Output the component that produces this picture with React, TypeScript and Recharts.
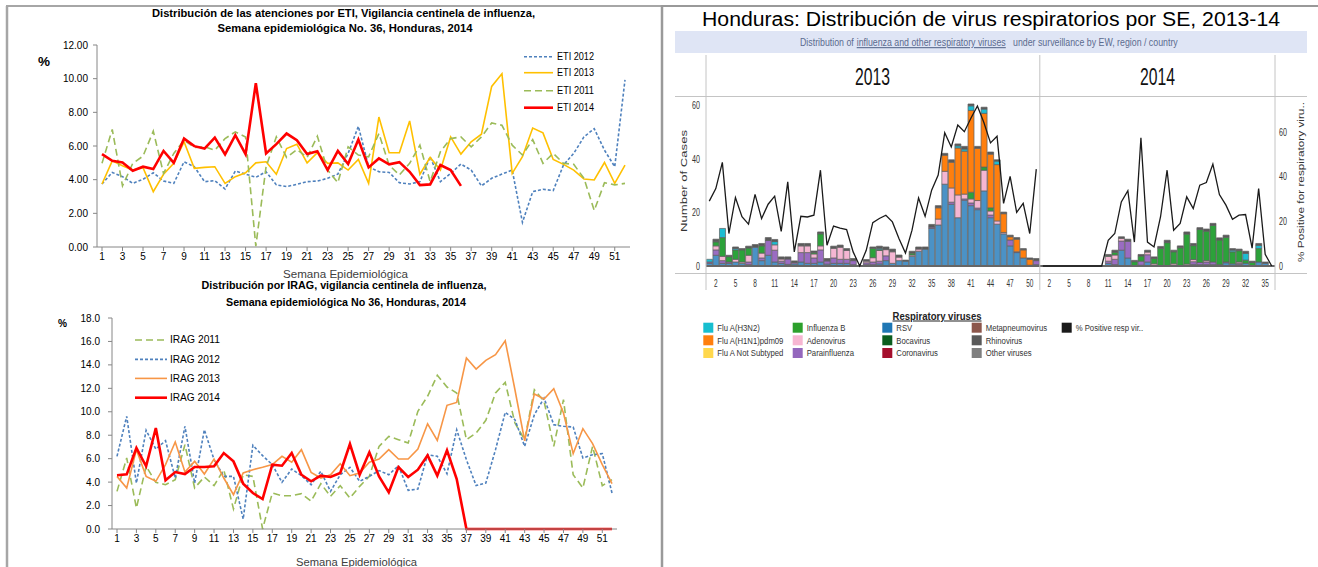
import React from "react";
import {
  LineChart,
  Line,
  XAxis,
  YAxis,
  ComposedChart,
  Bar,
  ReferenceLine,
} from "recharts";

const SANS = '"Liberation Sans", Arial, sans-serif';

// ---------- ETI (top left) ----------
const weeks = Array.from({ length: 52 }, (_, i) => i + 1);

const eti2011 = [4.97, 6.98, 3.63, 4.97, 5.4, 6.88, 4.37, 5.56, 6.34, 5.91, 5.95, 5.75, 6.44, 6.84, 6.54, 0.05, 4.77, 6.54, 5.32, 5.79, 5.32, 6.58, 4.57, 3.82, 5.95, 5.46, 5.36, 6.74, 4.87, 4.28, 4.97, 6.05, 3.88, 5.66, 6.44, 6.54, 5.95, 6.54, 7.37, 7.23, 6.05, 5.46, 6.38, 4.97, 5.56, 4.97, 4.91, 4.08, 2.17, 3.82, 3.69, 3.78];
const eti2012 = [3.74, 4.43, 4.18, 3.78, 4.02, 4.41, 3.92, 3.78, 5.06, 4.77, 3.88, 3.94, 3.45, 4.51, 4.33, 4.14, 4.47, 3.69, 3.59, 3.72, 3.88, 3.92, 4.08, 4.33, 5.56, 7.17, 4.77, 4.47, 4.43, 3.82, 3.74, 3.88, 5.36, 3.88, 4.37, 4.93, 4.57, 3.63, 4.08, 4.33, 4.57, 1.46, 3.29, 3.43, 3.35, 4.87, 5.56, 6.54, 7.03, 5.75, 4.77, 9.93];
const eti2013 = [3.74, 5.12, 4.83, 4.57, 4.71, 3.29, 4.32, 4.97, 6.25, 4.67, 4.73, 4.77, 3.78, 4.18, 4.41, 5.0, 5.06, 4.32, 5.85, 6.11, 5.0, 5.6, 4.97, 5.0, 4.57, 5.2, 3.78, 7.72, 5.6, 5.6, 7.49, 4.32, 5.32, 4.57, 6.54, 5.52, 6.25, 6.7, 9.54, 10.29, 4.37, 5.36, 7.07, 6.78, 5.2, 4.91, 4.57, 4.04, 3.98, 5.02, 3.78, 4.87];
const eti2014 = [5.52, 5.12, 5.02, 4.53, 4.77, 4.63, 5.71, 5.0, 6.44, 5.99, 5.85, 6.5, 5.5, 6.64, 5.52, 9.73, 5.56, 6.11, 6.74, 6.34, 5.52, 5.69, 4.57, 5.71, 4.93, 6.38, 4.73, 5.26, 4.91, 5.04, 4.47, 3.68, 3.72, 4.87, 4.57, 3.63];
const etiTicks = [0, 2, 4, 6, 8, 10, 12];

// ---------- IRAG (bottom left) ----------
const irag2011 = [3.21, 6.06, 1.79, 5.35, 3.98, 3.78, 4.21, 7.19, 3.5, 4.44, 3.7, 5.06, 1.71, 4.63, 4.49, 0, 3.07, 2.84, 2.84, 3.01, 2.37, 3.87, 2.79, 3.7, 2.64, 3.64, 4.49, 7.05, 7.9, 7.62, 7.34, 10.04, 11.32, 13.11, 12.11, 11.6, 7.62, 8.19, 9.27, 11.6, 12.51, 9.04, 7.62, 11.88, 10.89, 7.05, 11.03, 4.63, 3.5, 7.05, 3.7, 4.21];
const irag2012 = [6.2, 9.61, 3.92, 8.42, 6.82, 7.53, 4.35, 8.76, 3.92, 8.47, 5.91, 4.49, 4.49, 0.85, 7.14, 6.26, 5.49, 3.98, 5.12, 4.55, 3.78, 4.92, 3.21, 4.63, 5.26, 4.07, 4.49, 4.98, 4.63, 5.4, 3.3, 3.41, 6.34, 6.2, 4.72, 8.47, 5.91, 3.7, 3.92, 6.77, 9.95, 9.33, 7.05, 9.75, 11.17, 8.9, 8.76, 8.7, 6.06, 6.34, 6.43, 3.07];
const irag2013 = [4.49, 3.5, 6.77, 4.49, 4.07, 5.49, 7.42, 4.86, 5.77, 4.69, 5.97, 4.35, 2.93, 4.78, 5.06, 5.26, 5.49, 6.2, 5.69, 6.77, 4.83, 4.35, 4.63, 5.57, 4.55, 4.78, 5.69, 5.97, 6.77, 5.97, 5.97, 6.82, 8.98, 7.56, 10.55, 10.8, 14.59, 13.65, 14.39, 14.87, 16.06, 11.88, 7.53, 11.52, 11.09, 11.97, 9.89, 6.43, 8.56, 7.28, 5.49, 3.87];
const irag2014 = [4.58, 4.66, 6.91, 5.35, 8.62, 4.15, 4.86, 4.69, 5.29, 5.29, 5.35, 6.48, 5.77, 3.87, 3.07, 2.56, 5.49, 5.4, 6.48, 4.63, 4.07, 4.55, 4.44, 4.78, 7.25, 4.63, 6.54, 4.49, 3.13, 5.29, 4.44, 5.06, 6.28, 4.55, 6.71, 4.26, 0, 0, 0, 0, 0, 0, 0, 0, 0, 0, 0, 0, 0, 0, 0, 0];
const iragTicks = [0, 2, 4, 6, 8, 10, 12, 14, 16, 18];

// ---------- Respiratory viruses (right) ----------
const weeks13 = Array.from({ length: 51 }, (_, i) => i + 1);
const weeks14 = Array.from({ length: 36 }, (_, i) => i + 1);

const rsv13 = [1, 4, 1, 1, 1.5, 1, 0.5, 7, 2, 4, 1.5, 1, 0.6, 0.8, 1.5, 1, 1, 1.5, 0.7, 1, 1, 1, 0.5, 0, 0.5, 0.5, 0.8, 2, 1, 2, 1.8, 3.6, 5.5, 6.3, 14, 15.3, 30.5, 23, 18, 24.5, 22.5, 21, 28, 18, 15.6, 12, 7.5, 5, 3, 0.3, 0.5];
const para13 = [0.5, 2, 1, 0.5, 0, 0, 1, 0, 1, 5.5, 4.4, 0.8, 2, 0.5, 3.5, 4, 2, 4.5, 1.2, 2, 1.5, 1.5, 1.5, 0, 0.7, 1, 1, 1.8, 0, 0, 0, 0, 0, 0, 0.5, 0, 0, 0.8, 0, 0.5, 1, 0.6, 0, 1, 0, 0, 2.2, 0.3, 0, 0, 1.5];
const adeno13 = [0, 1.5, 1.6, 0, 1, 0.5, 2.5, 0, 1.8, 0, 2, 0.8, 0, 0, 2.5, 2.5, 1.5, 1.5, 0, 3.6, 4.5, 3.3, 0, 0, 0.6, 1.6, 4, 2.3, 4.3, 1.3, 0, 0.5, 0.8, 0, 0, 2.2, 4.8, 5.3, 8.5, 1.8, 1.5, 2.8, 7.7, 1.5, 1.2, 0.5, 0, 0, 0, 0, 0];
const fluB13 = [0, 1.5, 7, 2, 3.5, 4.5, 2.7, 0, 2.7, 0, 0, 0, 0, 0, 0, 0, 0.5, 4.5, 0, 0, 0, 0, 0, 0, 0, 3.5, 0.3, 0, 0, 0, 0, 0.7, 0, 0, 0, 0, 0, 0, 0, 0, 2.5, 0, 1.2, 1.2, 0, 0, 0, 0, 0, 0, 0];
const h1n113 = [0, 0, 0, 0, 0, 0, 0, 0, 0, 0, 0, 0, 0, 0, 0, 0, 0, 0, 0, 0, 0, 0, 0, 0, 0, 0, 0, 0, 0, 0, 0, 0, 0, 0, 0, 4.2, 6, 9.6, 17.5, 16, 30.5, 19.5, 20, 20, 21, 7, 1.2, 4.7, 3, 2.2, 0];
const h3n213 = [1, 0, 3.4, 0, 0.5, 0, 0, 0, 0, 0, 1.2, 0, 0, 0, 0, 0, 0, 0, 0, 0, 0, 0, 0, 0, 0, 0, 0.5, 0, 0, 0, 0, 0, 0, 0, 0, 0, 0, 0, 0.8, 0.8, 1.7, 0, 1.6, 0, 1.3, 0, 0, 0, 0, 0, 0];
const other13 = [0, 1, 0, 0.5, 0.6, 0.5, 0.7, 1, 0.9, 1.1, 0.8, 0.8, 0.8, 0.6, 0.9, 0.9, 0.6, 0.7, 0.9, 0.8, 0.8, 0.7, 0.8, 0, 0.6, 0.5, 0.8, 1, 1, 0.8, 0.4, 0.7, 0.8, 0.8, 1, 0.8, 0.7, 0.9, 0.7, 1, 0.7, 0.7, 0.7, 0.8, 0.5, 0.6, 0.6, 0.6, 0.5, 0.5, 0.8];
const pos13 = [29, 34.6, 46.3, 14.5, 30.6, 22, 18.7, 32, 21.2, 27.6, 31.2, 15.5, 37.6, 6.3, 22.2, 21.9, 22.7, 42.8, 9.3, 17.8, 16.9, 16.3, 6.3, 0, 7, 19.4, 21.2, 22.7, 19.7, 12.3, 5.8, 16, 30.4, 22.2, 33.9, 40.6, 59.5, 53.2, 63, 60, 66, 71.5, 64, 55, 58, 28, 40, 24, 28, 14.5, 43.3];

const rsv14 = [0, 0, 0, 0, 0, 0, 0, 0, 0, 0, 1, 0.5, 5.9, 3, 0, 0.3, 1.5, 0, 0, 0, 0, 0, 0, 0.6, 0.5, 0.5, 0.5, 0.5, 1.2, 0.8, 0.5, 1, 0, 1.5, 1, 0];
const para14 = [0, 0, 0, 0, 0, 0, 0, 0, 0, 0, 0.8, 2, 3.4, 6.2, 0, 1.5, 2.7, 0, 0, 0, 0, 0, 0, 1, 0.8, 1, 1, 0, 0.3, 0, 0.5, 0, 0, 0, 0, 0];
const adeno14 = [0, 0, 0, 0, 0, 0, 0, 0, 0, 0, 1.8, 1.6, 1, 0, 0, 0, 1, 0.8, 0, 0, 0.8, 0, 0.7, 0.8, 0, 0.5, 0, 0, 0, 0, 0.5, 0, 0, 0, 0, 0];
const fluB14 = [0, 0, 0, 0, 0, 0, 0, 0, 0, 0, 0.3, 1, 0, 0, 1.6, 1.9, 0, 2, 6.6, 8.7, 4.5, 6.8, 11.2, 5.2, 12.3, 11, 13.6, 9.2, 9.2, 4.5, 4.2, 1.2, 1.3, 5, 0, 0];
const h3n214 = [0, 0, 0, 0, 0, 0, 0, 0, 0, 0, 0, 0, 0, 0, 0, 0, 0, 0, 0, 0, 0, 0, 0, 0, 0, 0, 0, 0, 0, 0.6, 0, 2.5, 0, 1.2, 0, 0];
const other14 = [0, 0, 0, 0, 0, 0, 0, 0, 0, 0, 0.4, 0.8, 0.6, 0.8, 0.5, 0.6, 0.7, 0.6, 0.7, 0.9, 0.6, 0.7, 0.8, 0.8, 0.7, 0.8, 0.8, 0.8, 0.8, 0.6, 0.6, 0.8, 0.5, 0.7, 0.5, 0];
const pos14 = [0, 0, 0, 0, 0, 0, 0, 0, 0, 0, 11.5, 14.5, 28.6, 33.6, 10.7, 57.3, 10.7, 8.5, 22, 42.8, 16, 19, 30.9, 25.7, 36.1, 37.3, 45.5, 31.9, 27.2, 20.9, 22.7, 23, 8, 34.6, 5.2, 0];

const virusSeries = [
  { key: "rsv", color: "#4b92c6" },
  { key: "para", color: "#9a6cc2" },
  { key: "adeno", color: "#f5b6d2" },
  { key: "fluB", color: "#2ca23a" },
  { key: "h1n1", color: "#ff7f0e" },
  { key: "h3n2", color: "#1dbdd2" },
  { key: "other", color: "#5a5a5a" },
];

const virusLegend = [
  ["Flu A(H3N2)", "#17becf"],
  ["Flu A(H1N1)pdm09", "#ff7f0e"],
  ["Flu A Not Subtyped", "#ffd84d"],
  ["Influenza B", "#2ca02c"],
  ["Adenovirus", "#f7b6d2"],
  ["Parainfluenza", "#9467bd"],
  ["RSV", "#1f77b4"],
  ["Bocavirus", "#0b5d1e"],
  ["Coronavirus", "#a50f2d"],
  ["Metapneumovirus", "#8c564b"],
  ["Rhinovirus", "#595959"],
  ["Other viruses", "#7f7f7f"],
  ["% Positive resp vir..", "#1a1a1a"],
];

const virusRows = [
  ...weeks13.map((w, i) => ({
    key: `2013-${w}`,
    rsv: rsv13[i],
    para: para13[i],
    adeno: adeno13[i],
    fluB: fluB13[i],
    h1n1: h1n113[i],
    h3n2: h3n213[i],
    other: other13[i],
    pos13: pos13[i],
    pos14: null,
  })),
  ...weeks14.map((w, i) => ({
    key: `2014-${w}`,
    rsv: rsv14[i],
    para: para14[i],
    adeno: adeno14[i],
    fluB: fluB14[i],
    h1n1: 0,
    h3n2: h3n214[i],
    other: other14[i],
    pos13: null,
    pos14: pos14[i],
  })),
];

const axisGray = "#868686";
const tickStyle = { fontSize: 10, fill: "#000", fontFamily: SANS };

function EtiChart() {
  const data = weeks.map((w, i) => ({
    week: w,
    eti2011: eti2011[i],
    eti2012: eti2012[i],
    eti2013: eti2013[i],
    eti2014: i < eti2014.length ? eti2014[i] : null,
  }));
  return (
    <div style={{ position: "absolute", left: 0, top: 0 }}>
      <LineChart
        width={660}
        height={285}
        data={data}
        margin={{ top: 45, right: 30, bottom: 18, left: 0 }}
      >
        <XAxis
          dataKey="week"
          interval={1}
          padding={{ left: 5, right: 5 }}
          height={20}
          stroke={axisGray}
          tickSize={4}
          tick={tickStyle}
        />
        <YAxis
          width={97}
          domain={[0, 12]}
          ticks={etiTicks}
          tickFormatter={(v) => v.toFixed(2)}
          stroke={axisGray}
          tickSize={4}
          tickMargin={5}
          tick={tickStyle}
        />
        <Line dataKey="eti2012" stroke="#4F81BD" strokeWidth={1.6} strokeDasharray="3 2" dot={false} isAnimationActive={false} />
        <Line dataKey="eti2013" stroke="#FFC000" strokeWidth={1.6} dot={false} isAnimationActive={false} />
        <Line dataKey="eti2011" stroke="#9BBB59" strokeWidth={1.6} strokeDasharray="7 4" dot={false} isAnimationActive={false} />
        <Line dataKey="eti2014" stroke="#FF0000" strokeWidth={2.6} dot={false} isAnimationActive={false} />
      </LineChart>
    </div>
  );
}

function IragChart() {
  const data = weeks.map((w, i) => ({
    week: w,
    irag2011: irag2011[i],
    irag2012: irag2012[i],
    irag2013: irag2013[i],
    irag2014: irag2014[i],
  }));
  return (
    <div style={{ position: "absolute", left: 0, top: 280 }}>
      <LineChart
        width={660}
        height={287}
        data={data}
        margin={{ top: 38, right: 43, bottom: 18, left: 0 }}
      >
        <XAxis
          dataKey="week"
          interval={1}
          padding={{ left: 5, right: 5 }}
          height={20}
          stroke={axisGray}
          tickSize={4}
          tick={tickStyle}
        />
        <YAxis
          width={112}
          domain={[0, 18]}
          ticks={iragTicks}
          tickFormatter={(v) => v.toFixed(1)}
          stroke={axisGray}
          tickSize={4}
          tickMargin={8}
          tick={tickStyle}
        />
        <Line dataKey="irag2011" stroke="#9BBB59" strokeWidth={1.6} strokeDasharray="7 4" dot={false} isAnimationActive={false} />
        <Line dataKey="irag2012" stroke="#4F81BD" strokeWidth={1.6} strokeDasharray="3 2" dot={false} isAnimationActive={false} />
        <Line dataKey="irag2013" stroke="#F79646" strokeWidth={1.6} dot={false} isAnimationActive={false} />
        <Line dataKey="irag2014" stroke="#FF0000" strokeWidth={2.6} dot={false} isAnimationActive={false} />
      </LineChart>
    </div>
  );
}

function NarrowTick(props: any) {
  const { x, y, payload, kind } = props;
  if (kind === "x") {
    const w = Number(String(payload.value).split("-")[1]);
    if ((w - 2) % 3 !== 0) return null;
    return (
      <text transform={`translate(${x},${y + 13}) scale(0.62,1)`} textAnchor="middle" fontSize={10.5} fill="#333" fontFamily={SANS}>
        {w}
      </text>
    );
  }
  const left = kind === "left";
  return (
    <text
      transform={`translate(${left ? x + 2 : x - 4},${y + 4}) scale(0.62,1)`}
      textAnchor={left ? "end" : "start"}
      fontSize={11.5}
      fill="#333"
      fontFamily={SANS}
    >
      {payload.value}
    </text>
  );
}

function VirusChart() {
  return (
    <div style={{ position: "absolute", left: 662, top: 0 }}>
      <ComposedChart
        width={656}
        height={300}
        data={virusRows}
        margin={{ top: 97, right: 0, bottom: 0, left: 0 }}
        barCategoryGap="6%"
      >
        <XAxis dataKey="key" interval={0} height={34} axisLine={false} tickLine={false} tick={<NarrowTick kind="x" />} />
        <YAxis yAxisId="cases" width={44} domain={[0, 63]} ticks={[0, 20, 40, 60]} axisLine={false} tickLine={false} tick={<NarrowTick kind="left" />} />
        <YAxis yAxisId="pct" orientation="right" width={43} domain={[0, 75.5]} ticks={[0, 20, 40, 60]} axisLine={false} tickLine={false} tick={<NarrowTick kind="right" />} />
        {virusSeries.map((s) => (
          <Bar
            key={s.key}
            yAxisId="cases"
            dataKey={s.key}
            stackId="v"
            fill={s.color}
            stroke="#5f5f5f"
            strokeWidth={0.7}
            isAnimationActive={false}
          />
        ))}
        <ReferenceLine yAxisId="cases" y={0} stroke="#666" strokeWidth={2} />
        <Line yAxisId="pct" dataKey="pos13" stroke="#1a1a1a" strokeWidth={1.3} dot={false} isAnimationActive={false} />
        <Line yAxisId="pct" dataKey="pos14" stroke="#1a1a1a" strokeWidth={1.3} dot={false} isAnimationActive={false} />
      </ComposedChart>
    </div>
  );
}

function Fit(props: any) {
  const { x, y, w, size, bold, fill = "#000", anchor = "start", underline, children } = props;
  return (
    <text
      x={x}
      y={y}
      textAnchor={anchor}
      textLength={w}
      lengthAdjust="spacingAndGlyphs"
      fontSize={size}
      fontWeight={bold ? "bold" : "normal"}
      fill={fill}
      fontFamily={SANS}
      style={underline ? { textDecoration: "underline" } : undefined}
    >
      {children}
    </text>
  );
}

// horizontally condensed text (scaled, so its box stays true)
function Squeeze(props: any) {
  const { x, y, sx, size, fill, underline, children } = props;
  return (
    <text
      transform={`translate(${x},${y}) scale(${sx},1)`}
      fontSize={size}
      fill={fill}
      fontFamily={SANS}
      style={underline ? { textDecoration: "underline" } : undefined}
    >
      {children}
    </text>
  );
}

function LegendLine(props: any) {
  const { x1, x2, y, color, dash, width, label, tx, tw } = props;
  return (
    <g>
      <line x1={x1} x2={x2} y1={y} y2={y} stroke={color} strokeWidth={width} strokeDasharray={dash} />
      <Fit x={tx} y={y + 3.4} w={tw} size={10}>{label}</Fit>
    </g>
  );
}

function Overlay() {
  const colX = [703.3, 792.7, 882.3, 971.7, 1061.7];
  const rowY = [327.7, 340.3, 353];
  return (
    <svg width={1318} height={567} style={{ position: "absolute", left: 0, top: 0, pointerEvents: "none" }}>
      {/* panel frames */}
      <line x1={6} y1={6} x2={661} y2={6} stroke="#a6a6a6" strokeWidth={2} />
      <line x1={7} y1={6} x2={7} y2={567} stroke="#a6a6a6" strokeWidth={2.5} />
      <line x1={662} y1={5} x2={662} y2={567} stroke="#9a9a9a" strokeWidth={2.5} />
      <line x1={662} y1={6} x2={1318} y2={6} stroke="#999" strokeWidth={2} />

      {/* ETI texts */}
      <Fit x={343.5} y={16.8} w={383} size={11} bold anchor="middle">
        Distribución de las atenciones por ETI, Vigilancia centinela de influenza,
      </Fit>
      <Fit x={345} y={31.5} w={255} size={11} bold anchor="middle">
        Semana epidemiológica No. 36, Honduras, 2014
      </Fit>
      <Fit x={38} y={65.5} w={12} size={13} bold>%</Fit>
      <Fit x={283} y={278} w={125} size={10} fill="#404040">Semana Epidemiológica</Fit>
      <LegendLine x1={524} x2={553} y={56.7} color="#4F81BD" dash="3 2" width={1.6} label="ETI 2012" tx={557} tw={37} />
      <LegendLine x1={524} x2={553} y={72.7} color="#FFC000" width={1.6} label="ETI 2013" tx={557} tw={37} />
      <LegendLine x1={524} x2={553} y={90.7} color="#9BBB59" dash="7 4" width={1.6} label="ETI 2011" tx={557} tw={37} />
      <LegendLine x1={524} x2={553} y={107.7} color="#FF0000" width={2.6} label="ETI 2014" tx={557} tw={37} />

      {/* IRAG texts */}
      <Fit x={344} y={289} w={285} size={10.5} bold anchor="middle">
        Distribución por IRAG, vigilancia centinela de influenza,
      </Fit>
      <Fit x={346} y={306} w={240} size={10.5} bold anchor="middle">
        Semana epidemiológica No 36, Honduras, 2014
      </Fit>
      <Fit x={58} y={327} w={9} size={10} bold>%</Fit>
      <Fit x={296} y={566} w={121} size={10} fill="#404040">Semana Epidemiológica</Fit>
      <LegendLine x1={135} x2={167} y={340} color="#9BBB59" dash="7 4" width={1.6} label="IRAG 2011" tx={170} tw={50} />
      <LegendLine x1={135} x2={167} y={359.4} color="#4F81BD" dash="3 2" width={1.6} label="IRAG 2012" tx={170} tw={50} />
      <LegendLine x1={135} x2={167} y={378.4} color="#F79646" width={1.6} label="IRAG 2013" tx={170} tw={50} />
      <LegendLine x1={135} x2={167} y={397.7} color="#FF0000" width={2.6} label="IRAG 2014" tx={170} tw={50} />

      {/* respiratory viruses frame */}
      <Fit x={991} y={26} w={578} size={20} anchor="middle">
        Honduras: Distribución de virus respiratorios por SE, 2013-14
      </Fit>
      <rect x={675} y={31} width={632} height={22} fill="#dfe5f5" />
      <Squeeze x={800} y={46} sx={0.8} size={11} fill="#5b6b8f">Distribution of</Squeeze>
      <Squeeze x={856.7} y={46} sx={0.8} size={11} fill="#5b6b8f" underline>influenza and other respiratory viruses</Squeeze>
      <Squeeze x={1013} y={46} sx={0.8} size={11} fill="#5b6b8f">under surveillance by EW, region / country</Squeeze>
      <Fit x={872.5} y={85} w={35} size={23} fill="#111" anchor="middle">2013</Fit>
      <Fit x={1157.5} y={85} w={35} size={23} fill="#111" anchor="middle">2014</Fit>
      <line x1={675} x2={1307} y1={96.5} y2={96.5} stroke="#c4c4c4" />
      <line x1={675} x2={1307} y1={273.5} y2={273.5} stroke="#c4c4c4" />
      <line x1={706} x2={706} y1={55} y2={290} stroke="#c4c4c4" />
      <line x1={1039.8} x2={1039.8} y1={55} y2={290} stroke="#c4c4c4" />
      <line x1={1275} x2={1275} y1={55} y2={290} stroke="#c4c4c4" />
      <text transform="translate(687,181) scale(0.72,1) rotate(-90)" textAnchor="middle" textLength={102} lengthAdjust="spacingAndGlyphs" fontSize={13} fill="#333" fontFamily={SANS}>
        Number of Cases
      </text>
      <text transform="translate(1304,182) scale(0.72,1) rotate(-90)" textAnchor="middle" textLength={160} lengthAdjust="spacingAndGlyphs" fontSize={13} fill="#333" fontFamily={SANS}>
        % Positive for respiratory viru..
      </text>

      {/* respiratory viruses legend */}
      <Fit x={937} y={319.5} w={89} size={10} bold fill="#222" anchor="middle" underline>
        Respiratory viruses
      </Fit>
      {virusLegend.map(([label, color], i) => {
        const x = colX[Math.floor(i / 3)];
        const y = rowY[i % 3];
        return (
          <g key={label}>
            <rect x={x} y={y - 5} width={10} height={10} fill={color} />
            <text transform={`translate(${x + 14},${y + 3.2}) scale(0.86,1)`} fontSize={9} fill="#333" fontFamily={SANS}>
              {label}
            </text>
          </g>
        );
      })}
    </svg>
  );
}

export default function App() {
  return (
    <div style={{ position: "absolute", left: 0, top: 0, width: 1318, height: 567, background: "#fff", overflow: "hidden" }}>
      <EtiChart />
      <IragChart />
      <VirusChart />
      <Overlay />
    </div>
  );
}
